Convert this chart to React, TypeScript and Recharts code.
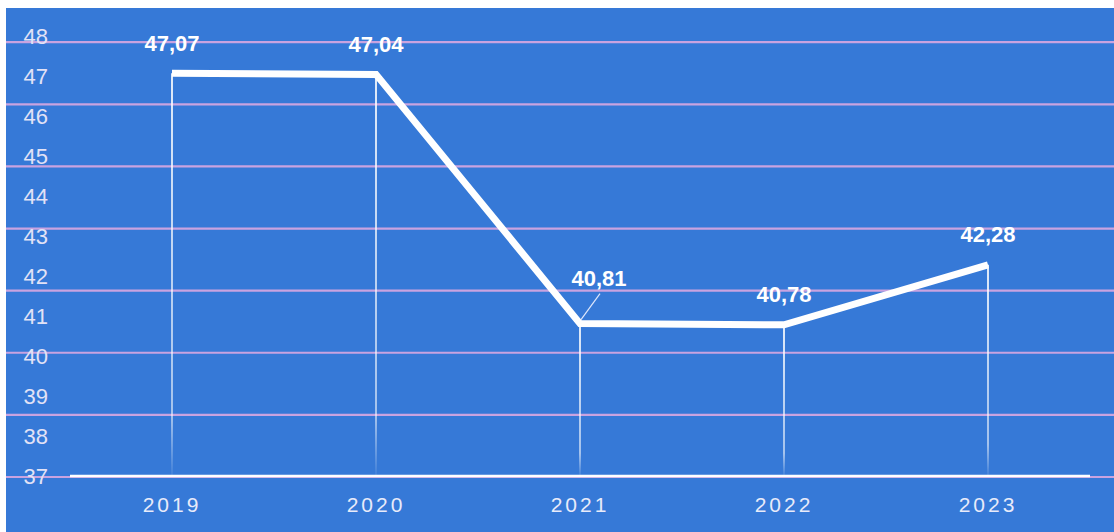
import {
  ComposedChart, Line, Bar, XAxis, YAxis, CartesianGrid, LabelList
} from 'recharts';

const years = ['2019', '2020', '2021', '2022', '2023'];
const values = [47.07, 47.04, 40.81, 40.78, 42.28];
const yTicks = [37, 38, 39, 40, 41, 42, 43, 44, 45, 46, 47, 48];
// the printed grid does not follow the value ticks, it has its own spacing
const gridTicks = [0, 1, 2, 3, 4, 5, 6, 7];

const data = years.map((year, i) => ({ year, value: values[i] }));

const FONT = '"Liberation Sans", Arial, sans-serif';
const BG = '#3679d7';

const fmt = (v: number) => v.toFixed(2).replace('.', ',');

function ValueLabel(props: any) {
  const x = props.x ?? props.viewBox?.x;
  const y = props.y ?? props.viewBox?.y;
  const index = props.index;
  const text = fmt(Number(props.value));
  const style = { fontFamily: FONT, fontSize: 22, fontWeight: 700, fill: '#ffffff' };

  // 2021 label sits off to the side with a small leader line
  if (index === 2) {
    return (
      <g>
        <line x1={x + 1} y1={y - 4} x2={x + 20} y2={y - 30} stroke="#dde6fb" strokeWidth={1.2} />
        <text x={x + 19} y={y - 45} textAnchor="middle" dominantBaseline="central" style={{ ...style, fontWeight: 600 }}>
          {text}
        </text>
      </g>
    );
  }
  return (
    <text x={x} y={y - 30} textAnchor="middle" dominantBaseline="central" style={style}>
      {text}
    </text>
  );
}

function GridLine(props: any) {
  const { x1, x2, y1, y2 } = props;
  // grid runs to the edges of the blue panel, past the plot area
  return <line x1={x1 - 64} x2={x2 + 24} y1={y1} y2={y2} stroke="#c9a3e0" strokeWidth={2.2} />;
}

function gridRows({ yAxis }: any) {
  const s = yAxis?.scale;
  const map = (t: number) => (typeof s === 'function' ? s(t) : s?.map ? s.map(t) : 0);
  return gridTicks.map(map);
}

export default function App() {
  return (
    <div style={{ position: 'absolute', left: 6, top: 8, width: 1108, height: 524, background: BG }}>
      <ComposedChart
        width={1108}
        height={524}
        data={data}
        margin={{ top: 28, right: 24, bottom: 0, left: 0 }}
      >
        <defs>
          <linearGradient id="dropFade" x1="0" y1="0" x2="0" y2="1">
            <stop offset="0%" stopColor="#ffffff" stopOpacity={0.85} />
            <stop offset="85%" stopColor="#ffffff" stopOpacity={0.55} />
            <stop offset="100%" stopColor="#ffffff" stopOpacity={0.05} />
          </linearGradient>
        </defs>
        <CartesianGrid
          yAxisId="grid"
          vertical={false}
          horizontal={GridLine}
          horizontalCoordinatesGenerator={gridRows}
        />
        <XAxis
          dataKey="year"
          axisLine={{ stroke: '#ffffff', strokeWidth: 2.5 }}
          tickLine={false}
          tickSize={0}
          tickMargin={21}
          height={56}
          tick={{ fill: '#e8ebfa', fontSize: 21, fontFamily: FONT, letterSpacing: 3 }}
        />
        <YAxis
          domain={[37, 48]}
          ticks={yTicks}
          interval={0}
          axisLine={false}
          tickLine={false}
          tickSize={0}
          tickMargin={22}
          width={64}
          tick={{ fill: '#e2e2f6', fontSize: 22, fontFamily: FONT }}
        />
        <YAxis
          yAxisId="grid"
          orientation="right"
          type="number"
          domain={[0.016, 7.1]}
          ticks={gridTicks}
          interval={0}
          allowDataOverflow
          width={0}
          tick={false}
          axisLine={false}
          tickLine={false}
        />
        <Bar dataKey="value" barSize={2} fill="url(#dropFade)" isAnimationActive={false} />
        <Line
          type="linear"
          dataKey="value"
          stroke="#ffffff"
          strokeWidth={7}
          dot={false}
          activeDot={false}
          isAnimationActive={false}
        >
          <LabelList dataKey="value" content={ValueLabel} />
        </Line>
      </ComposedChart>
    </div>
  );
}
